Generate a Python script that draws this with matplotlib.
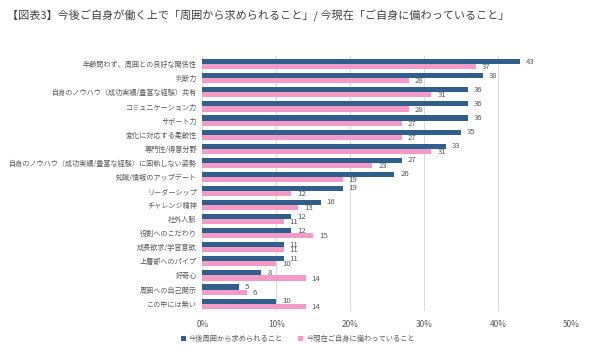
import matplotlib
matplotlib.use("Agg")
import matplotlib.pyplot as plt
import numpy as np

plt.rcParams['font.family'] = ['Noto Sans CJK JP', 'DejaVu Sans']

categories = [
    "年齢問わず、周囲との良好な関係性",
    "判断力",
    "自身のノウハウ（成功実績/豊富な経験）共有",
    "コミュニケーション力",
    "サポート力",
    "変化に対応する柔軟性",
    "専門性/得意分野",
    "自身のノウハウ（成功実績/豊富な経験）に固執しない姿勢",
    "知識/情報のアップデート",
    "リーダーシップ",
    "チャレンジ精神",
    "社外人脈",
    "役割へのこだわり",
    "成長欲求/学習意欲",
    "上層部へのパイプ",
    "好奇心",
    "周囲への自己開示",
    "この中には無い",
]
required = [43, 38, 36, 36, 36, 35, 33, 27, 26, 19, 16, 12, 12, 11, 11, 8, 5, 10]
possessed = [37, 28, 31, 28, 27, 27, 31, 23, 19, 12, 13, 11, 15, 11, 10, 14, 6, 14]
series_names = ["今後周囲から求められること", "今現在ご自身に備わっていること"]
xticks = [0, 10, 20, 30, 40, 50]

c_blue = "#2f5f8a"
c_pink = "#f49ac8"
c_text = "#595959"

fig = plt.figure(figsize=(5.9, 3.53), dpi=100)
ax = fig.add_axes([0.343, 0.118, 0.626, 0.722])

n = len(categories)
y = np.arange(n)
h = 0.36
ax.barh(y - h / 2, required, height=h, color=c_blue, label=series_names[0], zorder=3)
ax.barh(y + h / 2, possessed, height=h, color=c_pink, label=series_names[1], zorder=3)

for yi, v in zip(y, required):
    ax.text(v + 0.8, yi - h / 2, str(v), va='center', ha='left', fontsize=5.6, color=c_text)
for yi, v in zip(y, possessed):
    ax.text(v + 0.8, yi + h / 2 + 0.04, str(v), va='center', ha='left', fontsize=5.6, color=c_text)

ax.set_ylim(n - 0.45, -0.55)
ax.set_xlim(0, 50)
ax.set_yticks(y)
ax.set_yticklabels(categories, fontsize=5.1, color=c_text)
ax.set_xticks(xticks)
ax.set_xticklabels([f"{t}%" for t in xticks], fontsize=6, color=c_text)
ax.tick_params(axis='y', length=0, pad=4)
ax.tick_params(axis='x', length=0, pad=6)
ax.grid(axis='x', color='#d9d9d9', linewidth=0.7, zorder=0)
for s in ax.spines.values():
    s.set_visible(False)

fig.text(0.012, 0.955, "【図表3】今後ご自身が働く上で「周囲から求められること」/ 今現在「ご自身に備わっていること」",
         fontsize=8.0, color="#404040", ha='left', va='center')

leg = fig.legend(loc='center', bbox_to_anchor=(0.505, 0.04), ncol=2, frameon=False,
                 fontsize=5.2, handlelength=0.7, handleheight=0.7, columnspacing=2.0,
                 handletextpad=0.5)
for t in leg.get_texts():
    t.set_color(c_text)

fig.savefig("out.png", dpi=100)
